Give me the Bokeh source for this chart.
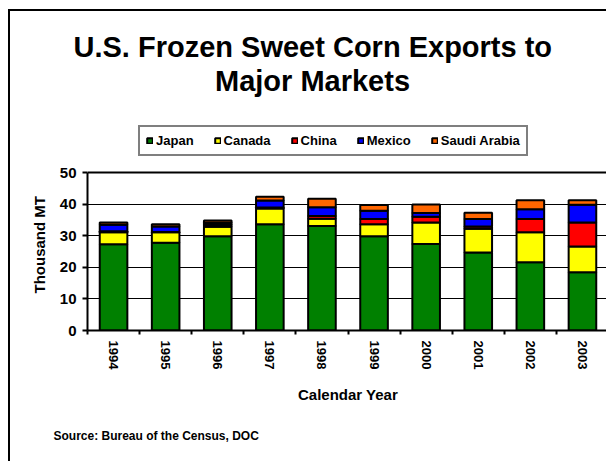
from bokeh.plotting import figure
from bokeh.models import (Range1d, LinearAxis, FixedTicker, Grid,
                          Legend, LegendItem, Label, Title, ColumnDataSource)
from bokeh.embed import file_html
from bokeh.resources import INLINE

years = ["1994", "1995", "1996", "1997", "1998", "1999", "2000", "2001", "2002", "2003"]
japan = [27.3, 27.8, 29.8, 33.6, 33.1, 29.8, 27.4, 24.7, 21.6, 18.4]
canada = [3.8, 3.3, 3.0, 5.0, 2.3, 3.8, 6.8, 7.5, 9.5, 8.2]
china = [0.3, 0.1, 0.7, 0.3, 0.8, 1.7, 1.8, 0.7, 4.2, 7.6]
mexico = [2.1, 1.7, 0.6, 2.2, 2.8, 2.6, 1.2, 2.4, 3.1, 5.6]
saudi = [0.7, 0.7, 0.7, 1.2, 2.7, 1.8, 2.7, 2.0, 2.8, 1.4]
series = ["Japan", "Canada", "China", "Mexico", "Saudi Arabia"]
colors = ["#008000", "#FFFF00", "#FF0000", "#0000FF", "#FF6600"]
y_ticks = [0, 10, 20, 30, 40, 50]
y_max = 50

FONT = "Liberation Sans"

n = len(years)
centers = [i + 0.5 for i in range(n)]
source = ColumnDataSource(dict(x=centers, Japan=japan, Canada=canada, China=china,
                               Mexico=mexico, **{"Saudi Arabia": saudi}))

# frame spans from below the first title line to the x axis; value axis uses lower 158 px
H, TOP, BOTTOM, AXIS_PX = 452, 53, 133, 158
frame_h = H - TOP - BOTTOM
p = figure(x_range=Range1d(0, n), y_range=Range1d(0, y_max * frame_h / AXIS_PX),
           width=598, height=H, output_backend="svg", toolbar_location=None,
           x_axis_location=None, min_border_left=77, min_border_right=0,
           min_border_top=TOP, min_border_bottom=BOTTOM)
p.background_fill_color = "white"
p.border_fill_color = "white"
p.outline_line_color = None
p.styles = {"margin-left": "8px", "margin-top": "9px",
            "border-left": "2px solid black", "border-top": "2px solid black"}

renderers = p.vbar_stack(series, x="x", width=0.53, source=source,
                         fill_color=colors, line_color="black", line_width=2)

# y axis
ya = p.yaxis[0]
ya.ticker = FixedTicker(ticks=y_ticks)
ya.bounds = (0, y_max)
ya.minor_tick_line_color = None
ya.major_tick_in = 0
ya.major_tick_out = 5
ya.major_tick_line_width = 2
ya.axis_line_width = 2
ya.major_label_text_font = FONT
ya.major_label_text_font_style = "bold"
ya.major_label_text_font_size = "15px"
ya.major_label_text_color = "black"
ya.major_label_standoff = 6

p.add_layout(Title(text="Thousand MT", align="left", offset=37, standoff=18,
                   text_font=FONT, text_font_style="bold", text_font_size="15px",
                   text_color="black"), "left")

# right edge of the plot box
ra = LinearAxis(bounds=(0, y_max), ticker=FixedTicker(ticks=[]))
ra.major_label_text_font_size = "0px"
ra.major_label_standoff = 0
ra.major_tick_out = 0
ra.major_tick_in = 0
ra.minor_tick_line_color = None
ra.axis_line_width = 2
p.add_layout(ra, "right")

p.ygrid.grid_line_color = "black"
p.ygrid.grid_line_width = 1
p.ygrid.ticker = FixedTicker(ticks=y_ticks[:-1])
p.xgrid.grid_line_color = None
p.add_layout(Grid(dimension=1, ticker=FixedTicker(ticks=[y_max]),
                  grid_line_color="black", grid_line_width=2))

# x axis: ticks at category edges
tick_axis = LinearAxis(ticker=FixedTicker(ticks=list(range(n + 1))))
tick_axis.major_label_text_font_size = "0px"
tick_axis.major_label_standoff = 0
tick_axis.major_tick_in = 0
tick_axis.major_tick_out = 4
tick_axis.major_tick_line_width = 2
tick_axis.minor_tick_line_color = None
tick_axis.axis_line_width = 2
p.add_layout(tick_axis, "below")

# x axis: year labels at category centers
cat_axis = LinearAxis(ticker=FixedTicker(ticks=centers),
                      major_label_overrides={c: y for c, y in zip(centers, years)})
cat_axis.axis_line_color = None
cat_axis.major_tick_line_color = None
cat_axis.minor_tick_line_color = None
cat_axis.major_label_orientation = "vertical"
cat_axis.major_label_text_font = FONT
cat_axis.major_label_text_font_style = "bold"
cat_axis.major_label_text_font_size = "13px"
cat_axis.major_label_text_color = "black"
cat_axis.major_label_standoff = 0
cat_axis.axis_label = "Calendar Year"
cat_axis.axis_label_text_font = FONT
cat_axis.axis_label_text_font_style = "bold"
cat_axis.axis_label_text_font_size = "15px"
cat_axis.axis_label_text_color = "black"
cat_axis.axis_label_standoff = 14
p.add_layout(cat_axis, "below")

p.add_layout(Title(text="Source:  Bureau of the Census, DOC", align="left", offset=-34,
                   standoff=41, text_font=FONT, text_font_style="bold",
                   text_font_size="12px", text_color="black"), "below")

legend = Legend(items=[LegendItem(label=s, renderers=[r]) for s, r in zip(series, renderers)],
                orientation="horizontal", location=(51, 174))
legend.border_line_color = "black"
legend.border_line_width = 2
legend.background_fill_color = "white"
legend.background_fill_alpha = 1
legend.label_text_font = FONT
legend.label_text_font_style = "bold"
legend.label_text_font_size = "13px"
legend.label_text_color = "black"
legend.glyph_width = 7
legend.glyph_height = 7
legend.label_standoff = 3
legend.spacing = 20
legend.padding = 6
legend.margin = 0
legend.label_height = 15
p.add_layout(legend)

p.add_layout(Title(text="U.S. Frozen Sweet Corn Exports to", align="left", offset=-14,
                   standoff=4, text_font=FONT, text_font_style="bold", text_font_size="29px",
                   text_color="black"), "above")
p.add_layout(Label(x=225, y=250, x_units="screen", y_units="screen", text="Major Markets",
                   text_align="center", text_baseline="alphabetic", text_font=FONT,
                   text_font_style="bold", text_font_size="29px", text_color="black"))

open("out.html", "w").write(file_html(p, INLINE))
